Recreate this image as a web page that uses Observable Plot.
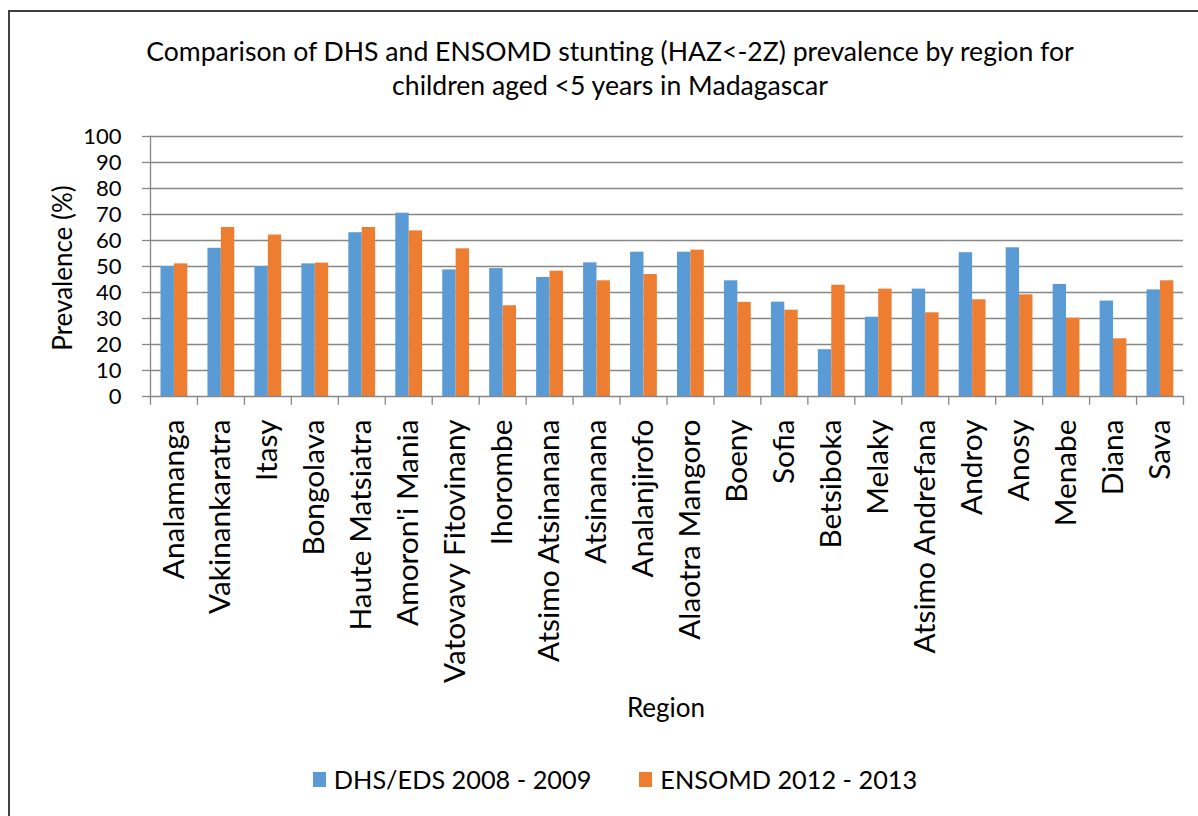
<!DOCTYPE html>
<html>
<head>
<meta charset="utf-8">
<script src="https://cdn.jsdelivr.net/npm/d3@7"></script>
<script src="https://cdn.jsdelivr.net/npm/@observablehq/plot@0.6"></script>
<style>
html, body { margin: 0; padding: 0; background: #fff; overflow: hidden; }
#wrap { position: relative; width: 1198px; height: 816px; overflow: hidden; font-family: Lato, "Open Sans", sans-serif; color: #000; }
#border { position: absolute; left: 8px; top: 10px; width: 1400px; height: 1000px; border: 2px solid #404040; box-sizing: border-box; }
#chart { position: absolute; left: 0; top: 0; }
#title { position: absolute; left: 0; width: 1220px; top: 34px; text-align: center; font-size: 26.6px; line-height: 34px; }
#ylab { position: absolute; left: 62px; top: 268px; transform: translate(-50%, -50%) rotate(-90deg); white-space: nowrap; font-size: 26px; }
#xlab { position: absolute; left: 666px; top: 707px; transform: translate(-50%, -50%); font-size: 26px; }
#legend { position: absolute; left: 0; width: 1230px; top: 764px; display: flex; justify-content: center; align-items: center; font-size: 25.3px; }
.item { display: flex; align-items: center; margin: 0 24px; }
.sw { width: 13px; height: 15px; margin-right: 8px; }
</style>
</head>
<body>
<div id="wrap">
  <div id="border"></div>
  <div id="chart"></div>
  <div id="title">Comparison of DHS and ENSOMD stunting (HAZ&lt;-2Z) prevalence by region for<br>children aged &lt;5 years in Madagascar</div>
  <div id="ylab">Prevalence (%)</div>
  <div id="xlab">Region</div>
  <div id="legend"></div>
</div>
<script>
const regions = ["Analamanga", "Vakinankaratra", "Itasy", "Bongolava", "Haute Matsiatra", "Amoron'i Mania",
  "Vatovavy Fitovinany", "Ihorombe", "Atsimo Atsinanana", "Atsinanana", "Analanjirofo", "Alaotra Mangoro",
  "Boeny", "Sofia", "Betsiboka", "Melaky", "Atsimo Andrefana", "Androy", "Anosy", "Menabe", "Diana", "Sava"];
const dhs = [50, 57, 50, 51, 63, 70.5, 48.7, 49.2, 45.8, 51.4, 55.5, 55.5, 44.5, 36.3, 18, 30.5, 41.3, 55.3, 57.2, 43.1, 36.7, 41];
const ensomd = [51, 65, 62.1, 51.3, 65, 63.7, 56.8, 34.9, 48.2, 44.5, 46.9, 56.3, 36.2, 33.2, 42.8, 41.3, 32.2, 37.2, 39.1, 30.1, 22.2, 44.5];
const seriesNames = ["DHS/EDS 2008 - 2009", "ENSOMD 2012 - 2013"];
const seriesColors = ["#5b9bd5", "#ed7d31"];
const yTicks = [0, 10, 20, 30, 40, 50, 60, 70, 80, 90, 100];

const W = 1198, H = 816, ML = 150, MR = 15, MT = 136, MB = 420;
const bw = (W - ML - MR) / regions.length;
const gray = "#878787";

const rows = regions.map((r, i) => ({region: r, dhs: dhs[i], ensomd: ensomd[i]}));

const chart = Plot.plot({
  width: W, height: H,
  marginLeft: ML, marginRight: MR, marginTop: MT, marginBottom: MB,
  style: {fontFamily: "Lato, 'Open Sans', sans-serif", color: "#000", background: "transparent"},
  x: {domain: regions, padding: 0, round: false, label: null},
  y: {domain: [0, 100], label: null},
  marks: [
    Plot.gridY(yTicks.filter(t => t > 0), {stroke: gray, strokeOpacity: 1, strokeWidth: 1.3}),
    Plot.barY(rows, {x: "region", y: "dhs", fill: seriesColors[0], insetLeft: 10.5, insetRight: bw - 10.5 - 13.4}),
    Plot.barY(rows, {x: "region", y: "ensomd", fill: seriesColors[1], insetLeft: 10.5 + 13.4, insetRight: bw - 10.5 - 26.8}),
    Plot.ruleY([0], {stroke: gray, strokeWidth: 1.3}),
    Plot.frame({anchor: "left", stroke: gray, strokeWidth: 1.3}),
    Plot.ruleX(regions, {x: d => d, dx: -bw / 2, y1: 0, y2: -3.4, stroke: gray, strokeWidth: 1.3}),
    Plot.ruleX([regions[regions.length - 1]], {x: d => d, dx: bw / 2, y1: 0, y2: -3.4, stroke: gray, strokeWidth: 1.3}),
    Plot.axisY({ticks: yTicks, tickSize: 8, tickPadding: 21, fontSize: 22, stroke: gray, strokeWidth: 1.3, label: null}),
    Plot.axisX({tickRotate: -90, tickSize: 0, tickPadding: 23, fontSize: 29.8, label: null})
  ]
});
document.getElementById("chart").appendChild(chart);

const legend = document.getElementById("legend");
seriesNames.forEach((name, i) => {
  const item = document.createElement("div");
  item.className = "item";
  const sw = document.createElement("div");
  sw.className = "sw";
  sw.style.background = seriesColors[i];
  const t = document.createElement("span");
  t.textContent = name;
  item.appendChild(sw);
  item.appendChild(t);
  legend.appendChild(item);
});
</script>
</body>
</html>
